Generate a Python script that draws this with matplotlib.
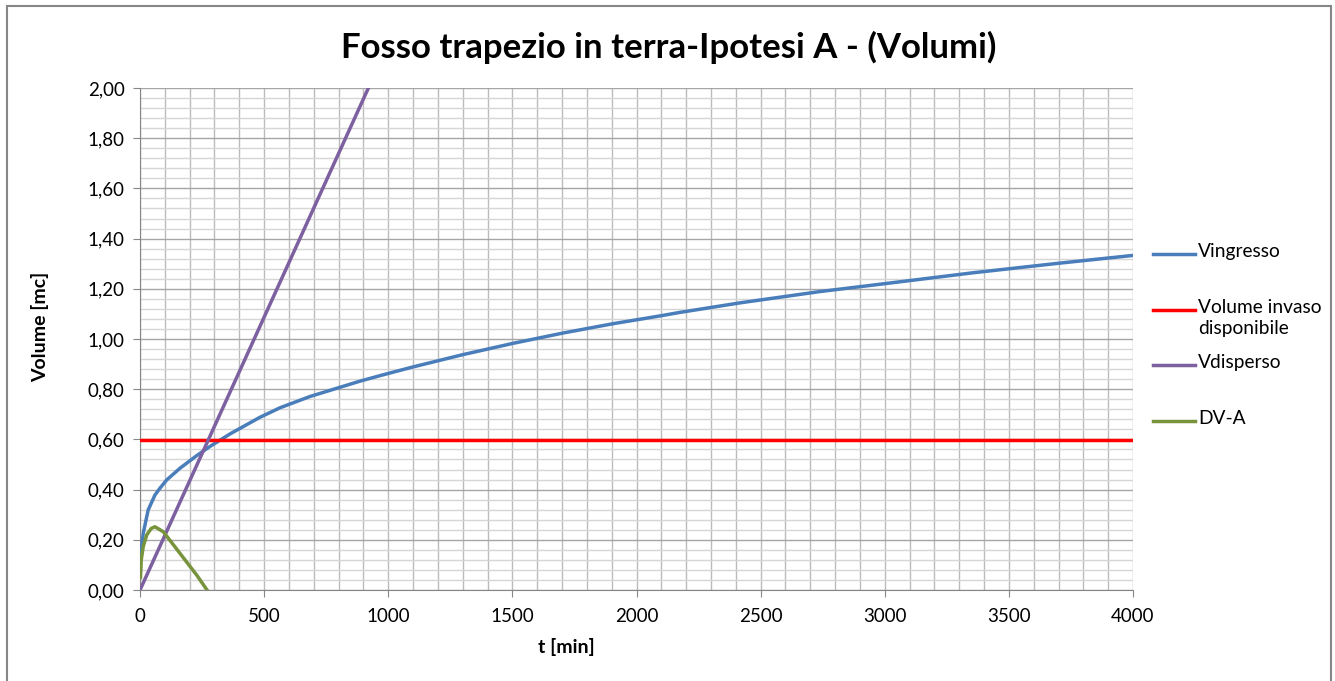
import numpy as np
import matplotlib
matplotlib.use('Agg')
import matplotlib.pyplot as plt
from matplotlib.lines import Line2D
from matplotlib.patches import Rectangle
from matplotlib.ticker import MultipleLocator, FuncFormatter

plt.rcParams['font.family'] = ['Lato', 'DejaVu Sans']

# values
t_ingresso = [0, 4, 13, 33, 60, 80, 107, 161, 228, 282, 363, 483, 564, 685, 886, 967, 1047,
              1101, 1302, 1504, 1705, 1906, 2095, 2175, 2417, 2739, 3021, 3357, 3693, 4000]
v_ingresso = [0.10, 0.15, 0.226, 0.319, 0.378, 0.405, 0.438, 0.485, 0.535, 0.572, 0.622,
              0.688, 0.726, 0.771, 0.832, 0.854, 0.875, 0.889, 0.938, 0.983, 1.024, 1.061,
              1.092, 1.106, 1.144, 1.189, 1.223, 1.264, 1.301, 1.333]
t_invaso = [0, 4000]
v_invaso = [0.597, 0.597]
t_disperso = [0, 500, 920, 1000]
v_disperso = [0.0, 1.087, 2.0, 2.174]
t_dva = [2, 5, 13, 27, 45, 60, 94, 161, 228, 270]
v_dva = [0.05, 0.12, 0.173, 0.219, 0.245, 0.252, 0.232, 0.146, 0.06, 0.0]

labels = ['Vingresso', 'Volume invaso\ndisponibile', 'Vdisperso', 'DV-A']
colors = ['#4a7ebb', '#ff0000', '#7d60a0', '#77933c']

fig = plt.figure(figsize=(13.35, 6.81), dpi=100)
ax = fig.add_axes([140/1335, 1-590/681, (1133-140)/1335, (590-88)/681])

lw = 2.5
ax.plot(t_ingresso, v_ingresso, color=colors[0], lw=lw, zorder=3, solid_joinstyle='round')
ax.plot(t_invaso, v_invaso, color=colors[1], lw=lw, zorder=3)
ax.plot(t_disperso, v_disperso, color=colors[2], lw=lw, zorder=4)
ax.plot(t_dva, v_dva, color=colors[3], lw=lw, zorder=5, solid_joinstyle='round')

ax.set_xlim(0, 4000)
ax.set_ylim(0, 2.0)
ax.xaxis.set_major_locator(MultipleLocator(500))
ax.xaxis.set_minor_locator(MultipleLocator(100))
ax.yaxis.set_major_locator(MultipleLocator(0.2))
ax.yaxis.set_minor_locator(MultipleLocator(0.04))
ax.yaxis.set_major_formatter(FuncFormatter(lambda v, p: ('%.2f' % v).replace('.', ',')))
ax.xaxis.grid(True, which='both', color='#bcbcbc', lw=1.0, zorder=0)
ax.yaxis.grid(True, which='major', color='#a6a6a6', lw=1.0, zorder=0)
ax.yaxis.grid(True, which='minor', color='#d6d6d6', lw=1.0, zorder=0)
ax.set_axisbelow(True)
for s in ['top', 'right']:
    ax.spines[s].set_visible(False)
for s in ['left', 'bottom']:
    ax.spines[s].set_color('#868686')
ax.tick_params(which='major', length=5, color='#868686', labelsize=13.5, pad=6)
ax.tick_params(which='minor', length=0)
ax.tick_params(axis='x', pad=8)

ax.set_xlabel('t [min]', fontsize=14, fontweight='bold')
ax.set_ylabel('Volume [mc]', fontsize=14, fontweight='bold')
ax.xaxis.set_label_coords(0.429, -0.1135)
ax.xaxis.label.set_va('center')
ax.yaxis.set_label_coords(-0.1007, 0.524)
ax.yaxis.label.set_va('center')
fig.text(669/1335, 1-47/681, 'Fosso trapezio in terra-Ipotesi A - (Volumi)',
         fontsize=25, fontweight='bold', ha='center', va='center')

# legend on the right
leg_y = [254, 310, 365, 421]
for lab, c, y in zip(labels, colors, leg_y):
    fig.add_artist(Line2D([1153/1335, 1195/1335], [1-y/681, 1-y/681], color=c, lw=lw))
    fig.text(1198/1335, 1-(y-11)/681, lab, fontsize=13.8, va='top', ha='left',
             linespacing=1.3)

fig.add_artist(Rectangle((7/1335, -0.05), (1331-7)/1335, 1.05-6/681, transform=fig.transFigure,
                         fill=False, edgecolor='#868686', lw=1.5))

fig.savefig('out.png', dpi=100)
